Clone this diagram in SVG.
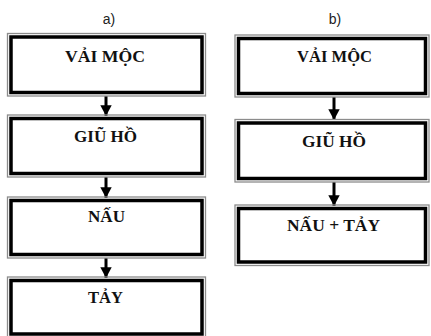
<svg xmlns="http://www.w3.org/2000/svg" width="431" height="336" viewBox="0 0 431 336">
<defs>
<style>
.outer{fill:none;stroke:#8c8c8c;stroke-width:1.3}
.inner{fill:#fff;stroke:#000;stroke-width:3.5}
.t{font-family:"Liberation Serif","Times New Roman",serif;font-weight:bold;font-size:17px;fill:#111;text-anchor:middle}
.lab{font-family:"Liberation Sans",Arial,sans-serif;font-size:14px;fill:#222;text-anchor:middle}
.shaft{stroke:#000;stroke-width:3;fill:none}
</style>
<marker id="ah" markerWidth="4.5" markerHeight="4.5" refX="3.6" refY="2.2" orient="auto" markerUnits="strokeWidth">
<path d="M0,0.3 L3.6,2.2 L0,4.1 Z" fill="#000"/>
</marker>
</defs>
<rect width="431" height="336" fill="#fff"/>
<text class="lab" x="109" y="24">a)</text>
<text class="lab" x="335" y="24">b)</text>
<g id="connectors">
<line class="shaft" x1="106" y1="96" x2="106" y2="116" marker-end="url(#ah)"/>
<line class="shaft" x1="106" y1="177" x2="106" y2="198" marker-end="url(#ah)"/>
<line class="shaft" x1="106" y1="258" x2="106" y2="278" marker-end="url(#ah)"/>
<line class="shaft" x1="334" y1="97" x2="334" y2="120" marker-end="url(#ah)"/>
<line class="shaft" x1="334" y1="182" x2="334" y2="206" marker-end="url(#ah)"/>
</g>
<g id="a1">
<rect class="outer" x="7.5" y="33.5" width="198" height="62.5"/>
<rect class="inner" x="11" y="37" width="191" height="55.5"/>
<text class="t" x="105" y="62" textLength="80" lengthAdjust="spacingAndGlyphs">VẢI MỘC</text>
</g>
<g id="a2">
<rect class="outer" x="7.5" y="115" width="198" height="62"/>
<rect class="inner" x="11" y="118.5" width="191" height="55"/>
<text class="t" x="105.5" y="142" textLength="63" lengthAdjust="spacingAndGlyphs">GIŨ HỒ</text>
</g>
<g id="a3">
<rect class="outer" x="7.5" y="197" width="198" height="61"/>
<rect class="inner" x="11" y="200.5" width="191" height="54"/>
<text class="t" x="106.5" y="222" textLength="37" lengthAdjust="spacingAndGlyphs">NẤU</text>
</g>
<g id="a4">
<rect class="outer" x="7.5" y="277" width="198" height="62"/>
<rect class="inner" x="11" y="280.5" width="191" height="53.5"/>
<text class="t" x="105.5" y="303" textLength="35" lengthAdjust="spacingAndGlyphs">TẢY</text>
</g>
<g id="b1">
<rect class="outer" x="235" y="35" width="194" height="62"/>
<rect class="inner" x="238.5" y="38.5" width="187" height="55"/>
<text class="t" x="334.5" y="62" textLength="75" lengthAdjust="spacingAndGlyphs">VẢI MỘC</text>
</g>
<g id="b2">
<rect class="outer" x="235" y="119.5" width="194" height="62.5"/>
<rect class="inner" x="238.5" y="123" width="187" height="55.5"/>
<text class="t" x="334" y="147" textLength="64" lengthAdjust="spacingAndGlyphs">GIŨ HỒ</text>
</g>
<g id="b3">
<rect class="outer" x="235" y="205" width="194" height="60.5"/>
<rect class="inner" x="238.5" y="208.5" width="187" height="53.5"/>
<text class="t" x="333.5" y="231" textLength="93" lengthAdjust="spacingAndGlyphs">NẤU + TẢY</text>
</g>
</svg>
